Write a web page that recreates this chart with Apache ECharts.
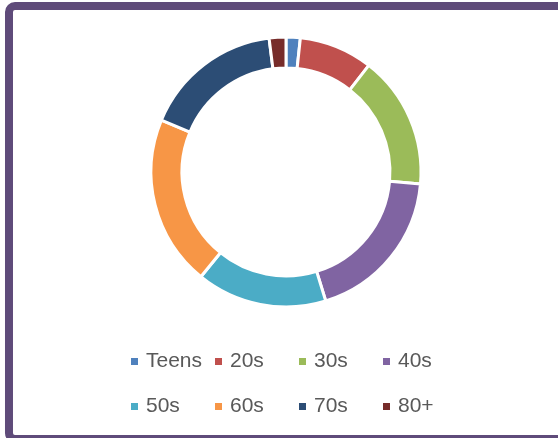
<!DOCTYPE html>
<html>
<head>
<meta charset="utf-8">
<script src="https://cdn.jsdelivr.net/npm/echarts@6/dist/echarts.min.js"></script>
<style>
  html, body { margin: 0; padding: 0; background: #fff; }
  #chart { width: 558px; height: 438px; }
</style>
</head>
<body>
<div id="chart"></div>
<script>
var groups = ['Teens', '20s', '30s', '40s', '50s', '60s', '70s', '80+'];
var shares = [1.7, 8.8, 15.9, 18.8, 15.6, 20.4, 16.7, 2.0];
var colors = ['#4F81BD', '#C0504D', '#9BBB59', '#8064A2', '#4BACC6', '#F79646', '#2C4D75', '#772C2A'];

var chart = echarts.init(document.getElementById('chart'), null, { renderer: 'canvas' });

var pieData = groups.map(function (g, i) {
  return { name: g, value: shares[i], itemStyle: { color: colors[i] } };
});

// legend laid out as a 4x2 grid: one small legend per entry
var colX = [129, 213, 297, 381];
var rowY = [351, 396];
var legends = groups.map(function (g, i) {
  return {
    data: [g],
    left: colX[i % 4],
    top: rowY[Math.floor(i / 4)],
    padding: 0,
    icon: 'rect',
    itemWidth: 9,
    itemHeight: 9,
    selectedMode: false,
    textStyle: {
      fontFamily: 'Liberation Sans',
      fontSize: 21,
      color: '#595959',
      padding: [0, 0, 0, 2]
    }
  };
});

var option = {
  backgroundColor: '#ffffff',
  animation: false,
  color: colors,
  legend: legends,
  graphic: [{
    type: 'rect',
    shape: { x: 9, y: 6, width: 620, height: 433, r: 6 },
    style: { fill: 'none', stroke: '#5F4B7A', lineWidth: 8 },
    silent: true
  }],
  series: [{
    type: 'pie',
    center: [286, 172],
    radius: [104, 135],
    startAngle: 90,
    clockwise: true,
    label: { show: false },
    labelLine: { show: false },
    itemStyle: { borderColor: '#ffffff', borderWidth: 3 },
    data: pieData
  }]
};
chart.setOption(option);
</script>
</body>
</html>
